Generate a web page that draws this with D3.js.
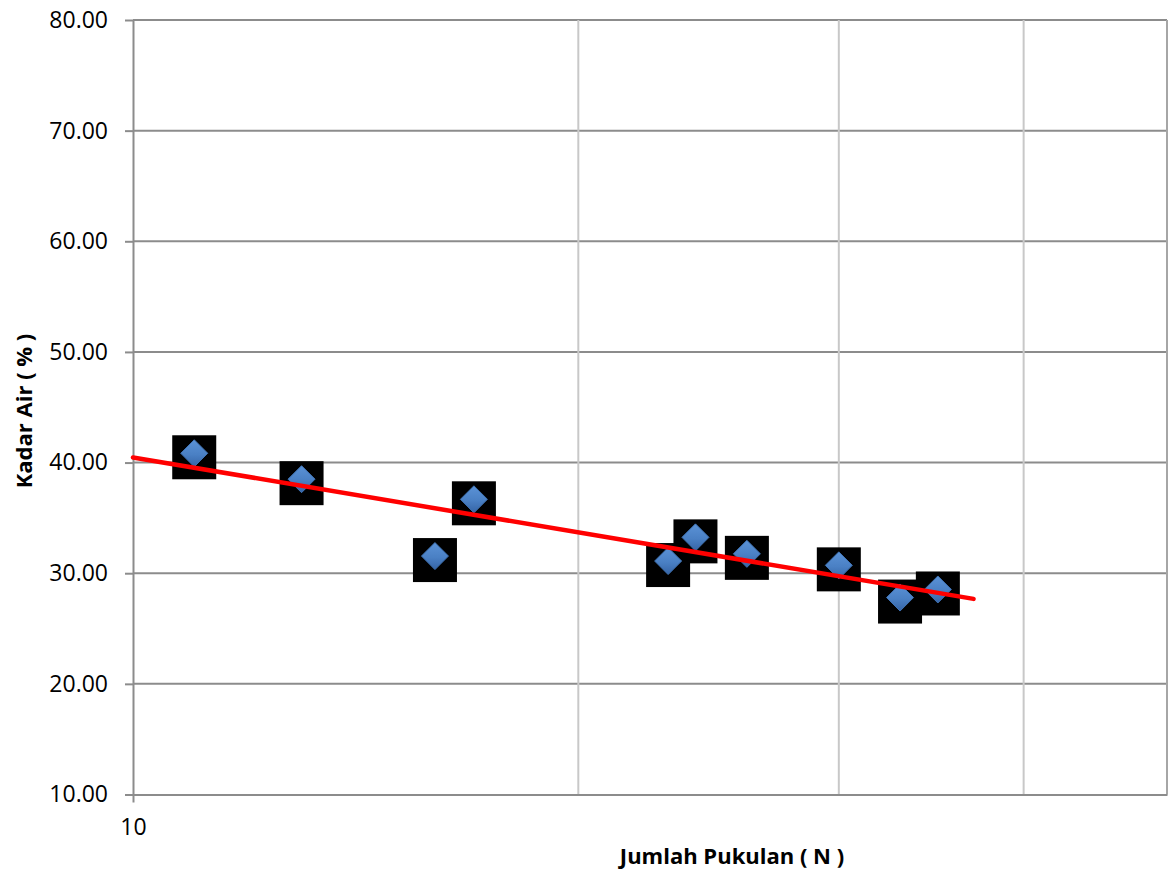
<!DOCTYPE html>
<html>
<head>
<meta charset="utf-8">
<script src="https://cdn.jsdelivr.net/npm/d3@7"></script>
<style>
  html, body { margin: 0; padding: 0; background: #ffffff; }
  svg { display: block; }
  text { font-family: "Open Sans", "Noto Sans", sans-serif; fill: #000; }
</style>
</head>
<body>
<svg id="chart" width="1175" height="876"></svg>
<script>
// Blow counts and water content for each test
const blows = [11, 13, 16, 17, 23, 24, 26, 30, 33, 35];
const waterContent = [40.84, 38.50, 31.55, 36.68, 31.10, 33.24, 31.75, 30.71, 27.80, 28.53];

// Axis settings
const yTicks = [10, 20, 30, 40, 50, 60, 70, 80];
const xGrid = [20, 30, 40, 50];
const xTickLabels = [10];
const xDomain = [10, 50];
const yDomain = [10, 80];
const trendRange = [10, 37];

const xTitle = "Jumlah Pukulan ( N )";
const yTitle = "Kadar Air ( % )";

const svg = d3.select("#chart");
const plot = { left: 133, right: 1167, top: 20, bottom: 794.5 };

const x = d3.scaleLog().base(10).domain(xDomain).range([plot.left, plot.right]);
const y = d3.scaleLinear().domain(yDomain).range([plot.bottom, plot.top]);

// Horizontal gridlines
svg.append("g").selectAll("line").data(yTicks.slice(1)).join("line")
  .attr("x1", plot.left).attr("x2", plot.right)
  .attr("y1", d => y(d)).attr("y2", d => y(d))
  .attr("stroke", "#8c8c8c").attr("stroke-width", 2);

// Vertical (minor) gridlines
svg.append("g").selectAll("line").data(xGrid).join("line")
  .attr("x1", d => x(d)).attr("x2", d => x(d))
  .attr("y1", plot.top).attr("y2", plot.bottom)
  .attr("stroke", d => d === xDomain[1] ? "#a6a6a6" : "#c8c8c8")
  .attr("stroke-width", 2);

// Y axis
const yAxis = d3.axisLeft(y).tickValues(yTicks).tickFormat(d3.format(".2f"))
  .tickSize(8).tickSizeOuter(0).tickPadding(17);
const gy = svg.append("g").attr("transform", `translate(${plot.left},0)`).call(yAxis);
gy.select(".domain").attr("stroke", "#8c8c8c").attr("stroke-width", 2);
gy.selectAll(".tick line").attr("stroke", "#8c8c8c").attr("stroke-width", 2);
gy.selectAll(".tick text").style("font-size", "23px").attr("fill", "#000");

// X axis
const xAxis = d3.axisBottom(x).tickValues(xTickLabels).tickFormat(d3.format("d"))
  .tickSize(8).tickSizeOuter(0).tickPadding(16);
const gx = svg.append("g").attr("transform", `translate(0,${plot.bottom})`).call(xAxis);
gx.select(".domain").attr("stroke", "#8c8c8c").attr("stroke-width", 2);
gx.selectAll(".tick line").attr("stroke", "#8c8c8c").attr("stroke-width", 2);
gx.selectAll(".tick text").style("font-size", "23px").attr("fill", "#000");

// Diamond gradient
const defs = svg.append("defs");
const grad = defs.append("linearGradient").attr("id", "diamondFill")
  .attr("x1", "0").attr("y1", "0").attr("x2", "0").attr("y2", "1");
grad.append("stop").attr("offset", "0%").attr("stop-color", "#5b92d6");
grad.append("stop").attr("offset", "55%").attr("stop-color", "#4a80c4");
grad.append("stop").attr("offset", "100%").attr("stop-color", "#3564a6");

const pts = blows.map((n, i) => ({ n, w: waterContent[i] }));

// Black square markers
const sq = 44;
svg.append("g").selectAll("rect").data(pts).join("rect")
  .attr("x", d => x(d.n) - sq / 2)
  .attr("y", d => y(d.w) - sq / 2 + 4)
  .attr("width", sq).attr("height", sq)
  .attr("fill", "#000");

// Blue diamond markers
const half = 13.5;
svg.append("g").selectAll("path").data(pts).join("path")
  .attr("d", d => {
    const cx = x(d.n), cy = y(d.w);
    return `M${cx},${cy - half}L${cx + half},${cy}L${cx},${cy + half}L${cx - half},${cy}Z`;
  })
  .attr("fill", "url(#diamondFill)")
  .attr("stroke", "#3f72b3").attr("stroke-width", 1);

// Logarithmic trendline: least squares on log10(N)
const lx = blows.map(n => Math.log10(n));
const mx = d3.mean(lx), my = d3.mean(waterContent);
const slope = d3.sum(lx.map((v, i) => (v - mx) * (waterContent[i] - my))) /
              d3.sum(lx.map(v => (v - mx) * (v - mx)));
const icpt = my - slope * mx;
const fit = n => icpt + slope * Math.log10(n);

svg.append("line")
  .attr("x1", x(trendRange[0])).attr("y1", y(fit(trendRange[0])))
  .attr("x2", x(trendRange[1])).attr("y2", y(fit(trendRange[1])))
  .attr("stroke", "#ff0000").attr("stroke-width", 4.5)
  .attr("stroke-linecap", "round");

// Axis titles
svg.append("text")
  .attr("x", 732).attr("y", 864)
  .attr("text-anchor", "middle")
  .style("font-size", "22px").style("font-weight", "bold")
  .text(xTitle);

svg.append("text")
  .attr("transform", "translate(32,411) rotate(-90)")
  .attr("text-anchor", "middle")
  .style("font-size", "22px").style("font-weight", "bold")
  .text(yTitle);
</script>
</body>
</html>
